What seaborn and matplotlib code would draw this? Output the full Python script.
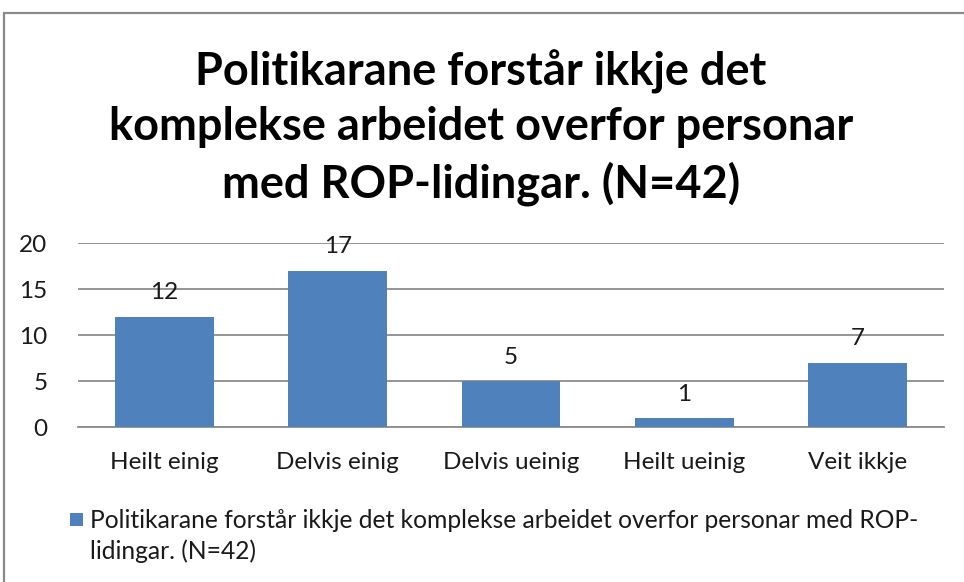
import matplotlib
matplotlib.use("Agg")
import matplotlib.pyplot as plt
import seaborn as sns
import pandas as pd
from matplotlib.patches import Rectangle

categories = ["Heilt einig", "Delvis einig", "Delvis ueinig", "Heilt ueinig", "Veit ikkje"]
values = [12, 17, 5, 1, 7]
yticks = [0, 5, 10, 15, 20]
title = "Politikarane forstår ikkje det\nkomplekse arbeidet overfor personar\nmed ROP-lidingar. (N=42)"
legend_text = "Politikarane forstår ikkje det komplekse arbeidet overfor personar med ROP-\nlidingar. (N=42)"

sns.set_theme(style="white")
plt.rcParams['font.family'] = ['Lato', 'DejaVu Sans']

df = pd.DataFrame({"cat": categories, "val": values})

fig = plt.figure(figsize=(9.64, 5.82), dpi=100)
ax = fig.add_axes([78/964, 1-427/582, (944-78)/964, (427-243)/582])

bar_color = "#4F81BD"
sns.barplot(data=df, x="cat", y="val", color=bar_color, width=0.57, ax=ax,
            saturation=1, edgecolor="none", zorder=3)

ax.set_ylim(0, 20)
ax.set_yticks(yticks)
ax.yaxis.grid(True, color="#8C8C8C", linewidth=1.3, zorder=0)
ax.set_axisbelow(True)
for s in ["top", "right", "left"]:
    ax.spines[s].set_visible(False)
ax.spines["bottom"].set_color("#8C8C8C")
ax.spines["bottom"].set_linewidth(1.3)
ax.set_xlabel("")
ax.set_ylabel("")
ax.tick_params(axis="both", length=0, labelsize=17.5, colors="#1a1a1a")
ax.tick_params(axis="y", pad=22)
ax.tick_params(axis="x", pad=18)

for i, v in enumerate(values):
    ax.annotate(str(v), (i, v), xytext=(0, 9.5), textcoords="offset points",
                ha="center", va="bottom", fontsize=17.5, color="#1a1a1a", zorder=4)

fig.text(481/964, 1-128/582, title, ha="center", va="center", fontsize=32.5,
         fontweight="bold", color="black", linespacing=1.36)

# legend
fig.patches.append(Rectangle((70/964, 1-526/582), 13/964, 13/582,
                             transform=fig.transFigure, facecolor=bar_color,
                             edgecolor="none"))
fig.text(90/964, 1-536/582, legend_text, ha="left", va="center", fontsize=17.7,
         color="#1a1a1a", linespacing=1.42)

# chart frame
fig.patches.append(Rectangle((4/964, -0.05), 1.1, (1-13/582) + 0.05,
                             transform=fig.transFigure, facecolor="none",
                             edgecolor="#8A8A8A", linewidth=1.6))

fig.savefig("out.png", dpi=100, facecolor="white")
